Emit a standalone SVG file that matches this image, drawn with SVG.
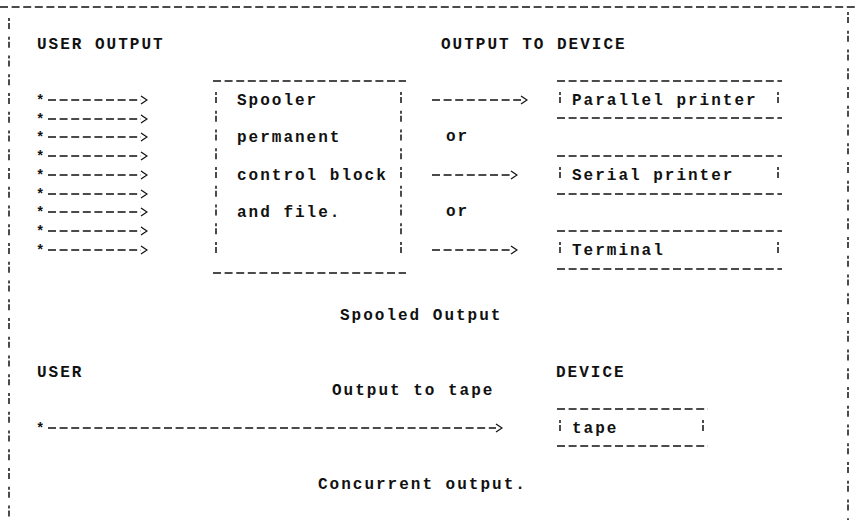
<svg xmlns="http://www.w3.org/2000/svg" width="855" height="520" viewBox="0 0 855 520">
<style>
  text { font-family: "Liberation Mono", "Courier New", monospace; font-size: 16px; font-weight: bold; fill: #111; letter-spacing: 2px; }
  .star { font-size: 14px; letter-spacing: 0; }
  .h { fill: none; stroke: #111; stroke-width: 1.5; stroke-dasharray: 8 3.6; }
  .v { fill: none; stroke: #111; stroke-width: 1.5; stroke-dasharray: 3 2 6 7.75; }
  .a { fill: none; stroke: #111; stroke-width: 1.5; stroke-dasharray: 8 3.6; marker-end: url(#chev); }
</style>
<defs>
  <marker id="chev" viewBox="0 0 8 10" refX="1" refY="5" markerWidth="8" markerHeight="10" markerUnits="userSpaceOnUse" orient="auto">
    <path d="M1 1 L7 5 L1 9" fill="none" stroke="#111" stroke-width="1.3"/>
  </marker>
</defs>
<rect width="855" height="520" fill="#fff"/>

<g id="frame">
  <line class="h" x1="0" y1="7" x2="855" y2="7"/>
  <line class="v" x1="9" y1="18" x2="9" y2="520"/>
  <line class="v" x1="848" y1="12" x2="848" y2="520"/>
</g>

<g id="labels">
  <text x="37" y="49">USER OUTPUT</text>
  <text x="441" y="49">OUTPUT TO DEVICE</text>
  <text x="446" y="141">or</text>
  <text x="446" y="216">or</text>
  <text x="340" y="320">Spooled Output</text>
  <text x="37" y="377">USER</text>
  <text x="556" y="377">DEVICE</text>
  <text x="332" y="395">Output to tape</text>
  <text x="318" y="489">Concurrent output.</text>
</g>

<g id="spooler">
  <line class="h" x1="213" y1="81" x2="406" y2="81"/>
  <line class="h" x1="213" y1="273" x2="406" y2="273"/>
  <line class="v" x1="216" y1="92" x2="216" y2="259"/>
  <line class="v" x1="401" y1="92" x2="401" y2="259"/>
  <text x="237" y="105">Spooler</text>
  <text x="237" y="142">permanent</text>
  <text x="237" y="180">control block</text>
  <text x="237" y="217">and file.</text>
</g>

<g id="parallel-printer">
  <line class="h" x1="557" y1="81" x2="782" y2="81"/>
  <line class="h" x1="557" y1="118" x2="782" y2="118"/>
  <line class="v" x1="560" y1="92" x2="560" y2="108"/>
  <line class="v" x1="778" y1="92" x2="778" y2="108"/>
  <text x="572" y="105">Parallel printer</text>
</g>

<g id="serial-printer">
  <line class="h" x1="557" y1="156" x2="782" y2="156"/>
  <line class="h" x1="557" y1="194" x2="782" y2="194"/>
  <line class="v" x1="560" y1="167" x2="560" y2="183"/>
  <line class="v" x1="778" y1="167" x2="778" y2="183"/>
  <text x="572" y="180">Serial printer</text>
</g>

<g id="terminal">
  <line class="h" x1="557" y1="231" x2="782" y2="231"/>
  <line class="h" x1="557" y1="269" x2="782" y2="269"/>
  <line class="v" x1="560" y1="242" x2="560" y2="258"/>
  <line class="v" x1="778" y1="242" x2="778" y2="258"/>
  <text x="572" y="255">Terminal</text>
</g>

<g id="tape">
  <line class="h" x1="557" y1="409" x2="708" y2="409"/>
  <line class="h" x1="557" y1="446" x2="708" y2="446"/>
  <line class="v" x1="560" y1="420" x2="560" y2="436"/>
  <line class="v" x1="703" y1="420" x2="703" y2="436"/>
  <text x="572" y="433">tape</text>
</g>

<g id="connectors">
  <g id="user-arrows">
    <text class="star" x="36" y="105">*</text><line class="a" x1="48" y1="100" x2="141" y2="100"/>
    <text class="star" x="36" y="124">*</text><line class="a" x1="48" y1="119" x2="141" y2="119"/>
    <text class="star" x="36" y="142">*</text><line class="a" x1="48" y1="137" x2="141" y2="137"/>
    <text class="star" x="36" y="161">*</text><line class="a" x1="48" y1="156" x2="141" y2="156"/>
    <text class="star" x="36" y="180">*</text><line class="a" x1="48" y1="175" x2="141" y2="175"/>
    <text class="star" x="36" y="199">*</text><line class="a" x1="48" y1="194" x2="141" y2="194"/>
    <text class="star" x="36" y="217">*</text><line class="a" x1="48" y1="212" x2="141" y2="212"/>
    <text class="star" x="36" y="236">*</text><line class="a" x1="48" y1="231" x2="141" y2="231"/>
    <text class="star" x="36" y="255">*</text><line class="a" x1="48" y1="250" x2="141" y2="250"/>
  </g>
  <line class="a" x1="432" y1="100" x2="521" y2="100"/>
  <line class="a" x1="432" y1="175" x2="511" y2="175"/>
  <line class="a" x1="432" y1="250" x2="511" y2="250"/>
  <text class="star" x="36" y="433">*</text><line class="a" x1="48" y1="428" x2="496" y2="428"/>
</g>
</svg>
